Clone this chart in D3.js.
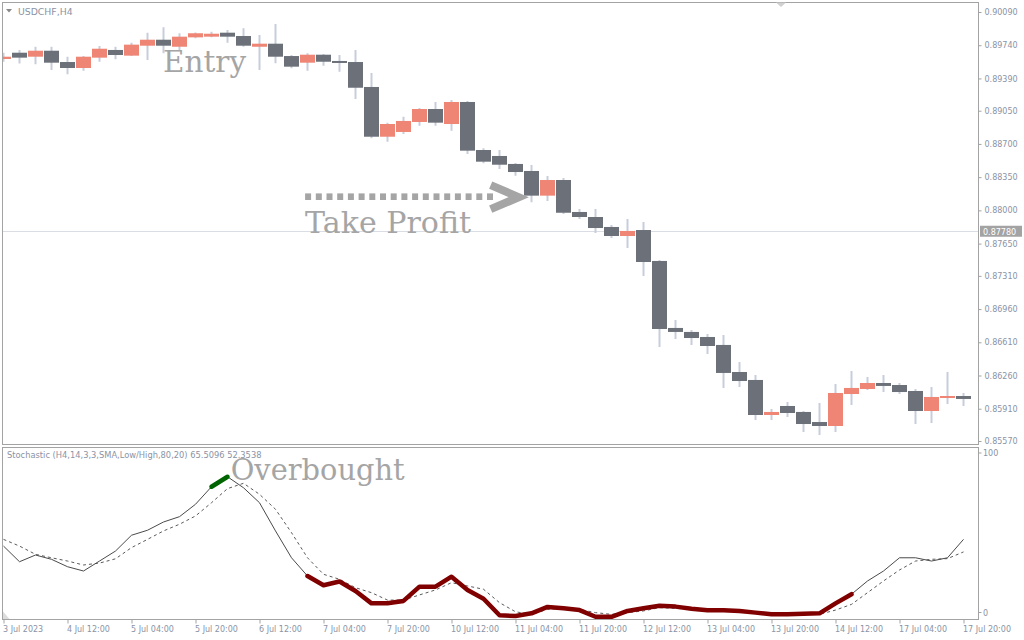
<!DOCTYPE html>
<html><head><meta charset="utf-8">
<script src="https://cdn.jsdelivr.net/npm/d3@7/dist/d3.min.js"></script>
<style>body{margin:0;background:#fff}svg{display:block}</style>
</head><body><svg id="c" width="1024" height="640"></svg>
<script>
// ---------- DATA ----------
const barTimes = [
"2023.07.03 20:00",
"2023.07.04 00:00","2023.07.04 04:00","2023.07.04 08:00","2023.07.04 12:00","2023.07.04 16:00","2023.07.04 20:00",
"2023.07.05 00:00","2023.07.05 04:00","2023.07.05 08:00","2023.07.05 12:00","2023.07.05 16:00","2023.07.05 20:00",
"2023.07.06 00:00","2023.07.06 04:00","2023.07.06 08:00","2023.07.06 12:00","2023.07.06 16:00","2023.07.06 20:00",
"2023.07.07 00:00","2023.07.07 04:00","2023.07.07 08:00","2023.07.07 12:00","2023.07.07 16:00","2023.07.07 20:00",
"2023.07.10 00:00","2023.07.10 04:00","2023.07.10 08:00","2023.07.10 12:00","2023.07.10 16:00","2023.07.10 20:00",
"2023.07.11 00:00","2023.07.11 04:00","2023.07.11 08:00","2023.07.11 12:00","2023.07.11 16:00","2023.07.11 20:00",
"2023.07.12 00:00","2023.07.12 04:00","2023.07.12 08:00","2023.07.12 12:00","2023.07.12 16:00","2023.07.12 20:00",
"2023.07.13 00:00","2023.07.13 04:00","2023.07.13 08:00","2023.07.13 12:00","2023.07.13 16:00","2023.07.13 20:00",
"2023.07.14 00:00","2023.07.14 04:00","2023.07.14 08:00","2023.07.14 12:00","2023.07.14 16:00","2023.07.14 20:00",
"2023.07.17 00:00","2023.07.17 04:00","2023.07.17 08:00","2023.07.17 12:00","2023.07.17 16:00","2023.07.17 20:00"];

const openP  = [0.89595,0.89661,0.89619,0.89682,0.89563,0.89500,0.89609,0.89690,0.89630,0.89735,0.89798,0.89724,0.89823,0.89830,0.89872,0.89837,0.89724,0.89756,0.89626,0.89556,0.89640,0.89574,0.89563,0.89300,0.88776,0.88826,0.88931,0.89068,0.88910,0.89142,0.88636,0.88573,0.88489,0.88415,0.88155,0.88320,0.87983,0.87930,0.87825,0.87730,0.87793,0.87467,0.86761,0.86719,0.86666,0.86582,0.86297,0.86213,0.85844,0.85939,0.85876,0.85770,0.85728,0.86065,0.86118,0.86181,0.86160,0.86097,0.85886,0.86023,0.86044];
const highP  = [0.89661,0.89690,0.89724,0.89724,0.89619,0.89626,0.89732,0.89724,0.89767,0.89872,0.89929,0.89866,0.89874,0.89882,0.89900,0.89918,0.89848,0.89964,0.89637,0.89655,0.89648,0.89637,0.89690,0.89447,0.88924,0.88987,0.89078,0.89142,0.89163,0.89152,0.88654,0.88636,0.88499,0.88478,0.88362,0.88341,0.88014,0.88014,0.87846,0.87909,0.87877,0.87477,0.86845,0.86740,0.86697,0.86687,0.86402,0.86265,0.85907,0.85981,0.85886,0.85970,0.86171,0.86308,0.86244,0.86265,0.86181,0.86118,0.86139,0.86297,0.86076];
const lowP   = [0.89566,0.89547,0.89539,0.89479,0.89434,0.89472,0.89566,0.89592,0.89626,0.89584,0.89655,0.89690,0.89813,0.89823,0.89767,0.89724,0.89479,0.89550,0.89497,0.89472,0.89524,0.89461,0.89173,0.88759,0.88724,0.88805,0.88892,0.88892,0.88839,0.88594,0.88496,0.88436,0.88365,0.88085,0.88099,0.87962,0.87909,0.87762,0.87709,0.87604,0.87309,0.86560,0.86645,0.86582,0.86487,0.86129,0.86139,0.85791,0.85791,0.85823,0.85665,0.85633,0.85665,0.85949,0.86107,0.86086,0.86065,0.85749,0.85760,0.85960,0.85939];
const closeP = [0.89619,0.89609,0.89682,0.89556,0.89500,0.89619,0.89703,0.89637,0.89746,0.89798,0.89735,0.89830,0.89866,0.89861,0.89830,0.89735,0.89756,0.89619,0.89514,0.89640,0.89566,0.89556,0.89292,0.88776,0.88910,0.88942,0.89068,0.88924,0.89142,0.88629,0.88513,0.88481,0.88404,0.88155,0.88320,0.87975,0.87930,0.87814,0.87730,0.87783,0.87456,0.86750,0.86719,0.86655,0.86571,0.86287,0.86202,0.85844,0.85876,0.85865,0.85749,0.85728,0.86076,0.86129,0.86181,0.86150,0.86086,0.85886,0.86034,0.86044,0.86013];

const stochMain   = [42.4,33.3,37.2,34.7,30.4,27.9,33.7,39.5,48.7,51.6,56.4,59.5,66.7,76.9,82.7,76.3,67.6,51.2,35.6,25.0,19.6,21.8,16.3,9.1,9.1,10.5,18.8,18.8,24.6,16.9,11.8,2.2,1.7,3.3,7.0,6.2,5.2,1.3,1.3,4.7,6.2,7.7,7.2,6.0,5.1,5.1,4.7,3.7,2.7,2.7,3.1,3.3,9.1,14.4,22.1,27.9,35.6,35.6,33.7,35.6,46.3];
const stochSignal = [46.3,42.4,37.6,35.6,33.7,31.4,32.5,35.0,41.5,46.3,51.2,55.1,59.9,67.6,75.8,78.9,72.5,63.8,50.2,35.6,26.0,23.1,18.2,15.3,11.0,11.0,14.0,16.9,21.1,19.2,17.3,9.5,4.2,2.7,5.6,6.2,5.6,3.7,2.7,3.7,4.7,6.6,6.2,5.6,5.2,5.1,4.7,4.1,3.3,2.7,2.7,2.7,5.2,8.5,15.3,22.1,28.5,33.7,34.7,35.1,39.0];

const overboughtSpan = ["2023.07.06 00:00","2023.07.06 04:00"];
const oversoldSpan   = ["2023.07.07 00:00","2023.07.14 16:00"];

const priceTicks = [0.90090,0.89740,0.89390,0.89050,0.88700,0.88350,0.88000,0.87650,0.87310,0.86960,0.86610,0.86260,0.85910,0.85570];
const timeTicks = ["2023.07.03 20:00","2023.07.04 12:00","2023.07.05 04:00","2023.07.05 20:00","2023.07.06 12:00","2023.07.07 04:00","2023.07.07 20:00","2023.07.10 12:00","2023.07.11 04:00","2023.07.11 20:00","2023.07.12 12:00","2023.07.13 04:00","2023.07.13 20:00","2023.07.14 12:00","2023.07.17 04:00","2023.07.17 20:00"];
const timeTickLabels = ["3 Jul 2023","4 Jul 12:00","5 Jul 04:00","5 Jul 20:00","6 Jul 12:00","7 Jul 04:00","7 Jul 20:00","10 Jul 12:00","11 Jul 04:00","11 Jul 20:00","12 Jul 12:00","13 Jul 04:00","13 Jul 20:00","14 Jul 12:00","17 Jul 04:00","17 Jul 20:00"];
const stochLevelLabels = [100, 0];
const hLinePrice = 0.87780;
const symbolTitle = "USDCHF,H4";
const stochTitle = "Stochastic (H4,14,3,3,SMA,Low/High,80,20) 65.5096 52.3538";

// ---------- LAYOUT ----------
const svg = d3.select("#c");
const L = 2.5, R = 978.5;
const mainTop = 2.5, mainBot = 444.5;
const stTop = 447.5, stBot = 619.5;
const axisCol = "#8b93a5", borderCol = "#a3a3a3";
const bullCol = "#ee8575", bearCol = "#6b7079", wickCol = "#c7cddb";

const x = d3.scalePoint().domain(barTimes).range([3.5, 963.5]);
const step = x.step();
const y = d3.scaleLinear().domain([0.85570, 0.90090]).range([441, 12]);
const ys = d3.scaleLinear().domain([0, 100]).range([619, 447]);

svg.append("rect").attr("width",1024).attr("height",640).attr("fill","#fff");

const defs = svg.append("defs");
defs.append("clipPath").attr("id","cm").append("rect").attr("x",L+0.5).attr("y",mainTop).attr("width",R-L-0.5).attr("height",mainBot-mainTop);
defs.append("clipPath").attr("id","cs").append("rect").attr("x",L+0.5).attr("y",stTop).attr("width",R-L-0.5).attr("height",stBot-stTop);

// horizontal line
svg.append("line").attr("x1",L).attr("x2",R).attr("y1",Math.round(y(hLinePrice))+0.5).attr("y2",Math.round(y(hLinePrice))+0.5)
  .attr("stroke","#dadde3").attr("stroke-width",1);

// candles
const data = barTimes.map((t,i)=>({t,o:openP[i],h:highP[i],l:lowP[i],c:closeP[i]}));
const gC = svg.append("g").attr("clip-path","url(#cm)");
gC.selectAll("line.w").data(data).join("line")
  .attr("x1",d=>x(d.t)).attr("x2",d=>x(d.t))
  .attr("y1",d=>y(d.h)).attr("y2",d=>y(d.l))
  .attr("stroke",wickCol).attr("stroke-width",2);
const bw = step - 1;
gC.selectAll("rect.b").data(data).join("rect")
  .attr("x",d=>x(d.t)-bw/2).attr("width",bw)
  .attr("y",d=>y(Math.max(d.o,d.c)))
  .attr("height",d=>Math.max(2,Math.abs(y(d.o)-y(d.c))))
  .attr("fill",d=>d.c>=d.o?bullCol:bearCol);

// annotations
const xAt = (k)=> x(barTimes[0]) + k*step;
const annoCol = "#a5a5a5";
const serif = "'DejaVu Serif', 'Liberation Serif', serif";
function bigText(g, txt, xx, yy, len){
  g.append("text").attr("x",xx).attr("y",yy).text(txt)
   .attr("font-family",serif).attr("font-size",29).attr("fill",annoCol)
   .attr("textLength",len).attr("lengthAdjust","spacingAndGlyphs");
}
bigText(svg, "Entry", xAt(9.97), y(0.89461), 83);
bigText(svg, "Take Profit", xAt(18.85), y(0.87758), 166);

// dotted arrow
const arrowY = y(0.88144);
const sq = d3.range(0, 18);
svg.selectAll("rect.sq").data(sq).join("rect")
  .attr("x",d=>xAt(18.85)+d*10.7).attr("y",arrowY-3.3).attr("width",6).attr("height",6.6).attr("fill",annoCol);
svg.append("path")
  .attr("d",`M${xAt(30.45)},${arrowY-11.5} L${xAt(32.2)},${arrowY+0.5} L${xAt(30.45)},${arrowY+12.5}`)
  .attr("fill","none").attr("stroke",annoCol).attr("stroke-width",8).attr("stroke-linejoin","miter");

// ---------- STOCHASTIC ----------
const gS = svg.append("g").attr("clip-path","url(#cs)");
const sline = d3.line().x((d,i)=>x(barTimes[i])).y(d=>ys(d));
gS.append("path").attr("d",sline(stochSignal)).attr("fill","none").attr("stroke","#5a5a5a").attr("stroke-width",1).attr("stroke-dasharray","3,3");
gS.append("path").attr("d",sline(stochMain)).attr("fill","none").attr("stroke","#4a4a4a").attr("stroke-width",1);
function seg(span, col){
  const a = barTimes.indexOf(span[0]), b = barTimes.indexOf(span[1]);
  const pts = d3.range(a,b+1).map(i=>[x(barTimes[i]), ys(stochMain[i])]);
  gS.append("path").attr("d",d3.line()(pts)).attr("fill","none").attr("stroke",col)
    .attr("stroke-width",4.5).attr("stroke-linejoin","round").attr("stroke-linecap","round");
}
seg(overboughtSpan, "#006400");
seg(oversoldSpan, "#800000");

bigText(svg, "Overbought", xAt(14.2), ys(80.8), 174);

// ---------- FRAMES ----------
svg.append("rect").attr("x",L).attr("y",mainTop).attr("width",R-L).attr("height",mainBot-mainTop).attr("fill","none").attr("stroke",borderCol);
svg.append("rect").attr("x",L).attr("y",stTop).attr("width",R-L).attr("height",stBot-stTop).attr("fill","none").attr("stroke",borderCol);

// markers
svg.append("path").attr("d","M776,2.5 L786,2.5 L781,7 Z").attr("fill","#d0d0d0");
svg.append("path").attr("d",`M${L+0.5},${stBot-8} L${L+0.5},${stBot-0.5} L${L+7},${stBot-0.5} Z`).attr("fill","#dcdcdc");

const sans = "'DejaVu Sans', Verdana, sans-serif";
// title
svg.append("path").attr("d","M6,9 L12,9 L9,12.5 Z").attr("fill","#888");
svg.append("text").attr("x",18).attr("y",14.5).text(symbolTitle)
  .attr("font-family",sans).attr("font-size",9.3).attr("fill","#8b93a5");
svg.append("text").attr("x",7).attr("y",458).text(stochTitle)
  .attr("font-family",sans).attr("font-size",8.3).attr("fill","#8b93a5");

// price axis
const gy = svg.append("g").attr("transform",`translate(${R},0)`)
  .call(d3.axisRight(y).tickValues(priceTicks).tickFormat(d3.format(".5f")).tickSize(3).tickPadding(3));
gy.select(".domain").remove();
gy.selectAll(".tick line").attr("stroke",borderCol);
gy.selectAll(".tick text").attr("font-family",sans).attr("font-size",8).attr("fill",axisCol);

// current line label
const hy = y(hLinePrice);
svg.append("rect").attr("x",980).attr("y",hy-5.5).attr("width",42).attr("height",11).attr("fill","#a3a3a3");
svg.append("text").attr("x",983).attr("y",hy+3.3).text(d3.format(".5f")(hLinePrice))
  .attr("font-family",sans).attr("font-size",8).attr("fill","#fff");

// stochastic scale labels
svg.selectAll("text.sl").data(stochLevelLabels).join("text")
  .attr("x",983).attr("y",d=> d===100? ys(d)+9 : ys(d)-3.5).text(d=>d)
  .attr("font-family",sans).attr("font-size",8).attr("fill",axisCol);
svg.selectAll("line.sl").data(stochLevelLabels).join("line")
  .attr("x1",R).attr("x2",R+3).attr("y1",d=> d===100? ys(d)+6 : ys(d)-6.5).attr("y2",d=> d===100? ys(d)+6 : ys(d)-6.5)
  .attr("stroke",borderCol);

// time axis
const gx = svg.append("g").attr("transform",`translate(0,${stBot})`)
  .call(d3.axisBottom(x).tickValues(timeTicks).tickFormat((d,i)=>timeTickLabels[i]).tickSize(4).tickPadding(3));
gx.select(".domain").remove();
gx.selectAll(".tick line").attr("stroke",borderCol);
gx.selectAll(".tick text").attr("text-anchor","start").attr("dx",-1).attr("font-family",sans).attr("font-size",8).attr("fill",axisCol);
</script></body></html>
